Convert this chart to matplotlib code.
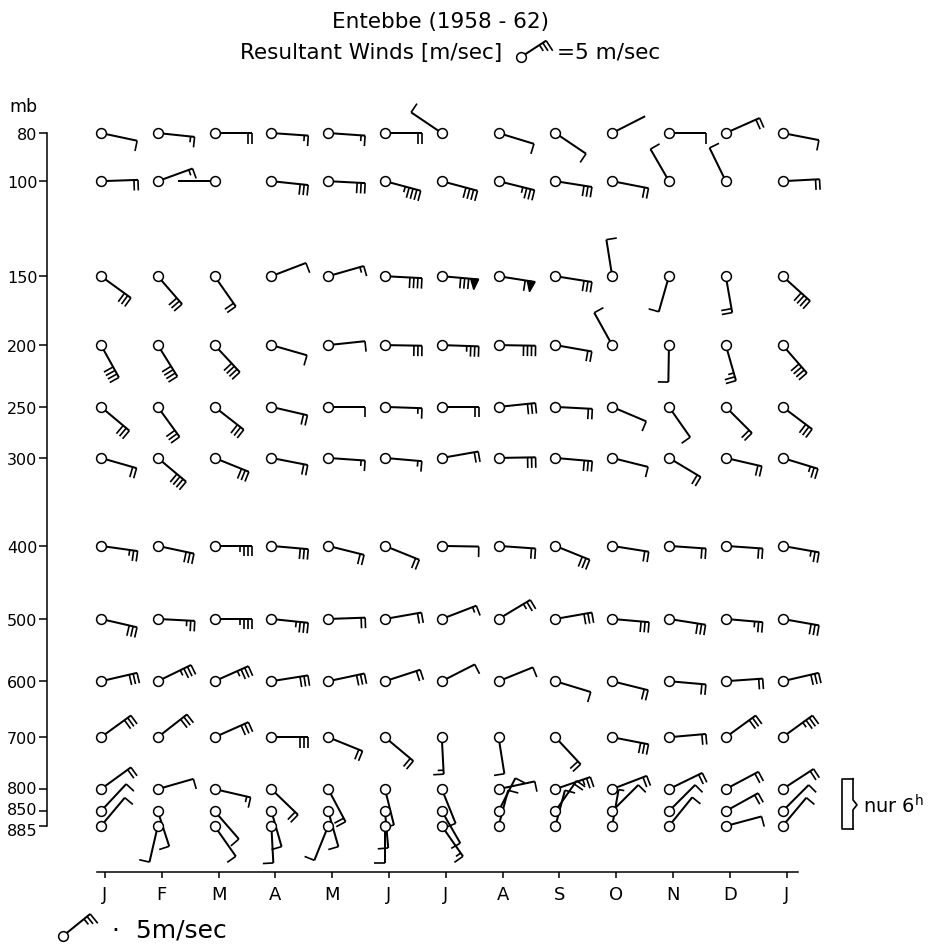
import numpy as np
import matplotlib.pyplot as plt
from matplotlib.transforms import ScaledTranslation

# Entebbe resultant winds 1958-62, monthly, Jan..Jan
months = ["J", "F", "M", "A", "M", "J", "J", "A", "S", "O", "N", "D", "J"]
levels = [80, 100, 150, 200, 250, 300, 400, 500, 600, 700, 800, 850, 885]
# approximate height (km) of each pressure level -> vertical scale of the chart
level_height = [17.87, 16.71, 14.42, 12.76, 11.27, 10.04, 7.92, 6.16, 4.66, 3.31, 2.06, 1.53, 1.17]

# direction the wind comes from (deg) and speed (m/sec), one list per level
dir_80 = [102, 96, 90, 94, 94, 90, 304, 107, 124, 63, 90, 66, 101]
spd_80 = [1, 1.5, 2, 1.5, 1.5, 2, 1, 1, 1, 0, 1, 2, 1]
dir_100 = [88, 70, 270, 96, 93, 105, 105, 104, 99, 101, 330, 334, 87]
spd_100 = [2, 1.5, 0, 3, 3, 4.5, 4, 3.5, 3, 2, 1, 1, 2]
dir_150 = [126, 139, 145, 69, 74, 93, 95, 99, 99, 351, 196, 170, 132]
spd_150 = [3, 3, 2, 1, 1.5, 4, 8, 6, 3, 1, 1, 2, 4]
dir_200 = [151, 148, 137, 106, 84, 91, 92, 91, 100, 331, 181, 164, 139]
spd_200 = [4, 4, 4, 1, 1, 3, 3.5, 4, 2, 1, 1, 2.5, 4]
dir_250 = [130, 144, 128, 103, 90, 92, 90, 84, 93, 113, 145, 135, 127]
spd_250 = [3, 3, 3, 2, 1, 1.5, 2, 3, 2, 1, 1, 2, 3]
dir_300 = [106, 130, 112, 101, 94, 95, 80, 89, 95, 104, 121, 103, 107]
spd_300 = [2, 4, 3, 2, 1.5, 1.5, 2, 3, 3, 1, 2, 2, 2.5]
dir_400 = [98, 102, 90, 95, 104, 112, 91, 94, 112, 99, 94, 94, 100]
spd_400 = [2.5, 3, 3.5, 3, 2, 2, 1, 2, 3, 2, 2, 2, 2.5]
dir_500 = [103, 93, 90, 96, 88, 80, 69, 59, 80, 95, 99, 95, 100]
spd_500 = [3, 2.5, 3.5, 3.5, 2, 2, 1.5, 2.5, 3, 3, 3, 2.5, 3]
dir_600 = [77, 64, 66, 81, 78, 72, 63, 68, 107, 104, 95, 86, 77]
spd_600 = [3, 3.5, 3.5, 3, 3, 2, 1, 1, 1, 2, 2, 2, 3]
dir_700 = [54, 52, 66, 90, 112, 130, 177, 171, 137, 101, 85, 54, 54]
spd_700 = [3, 3, 3, 3, 2, 2, 1.5, 1, 2, 3, 2, 3, 3.5]
dir_800 = [54, 74, 103, 134, 152, 166, 158, 78, 71, 69, 64, 62, 57]
spd_800 = [2, 1, 1.5, 2, 2, 1, 1, 1, 2.5, 2, 2, 2, 2]
dir_850 = [43, 162, 139, 164, 164, 175, 150, 27, 35, 45, 45, 61, 45]
spd_850 = [1, 1, 1, 1, 1, 1, 1, 1, 2, 1, 1, 2, 1]
dir_885 = [40, 193, 145, 177, 202, 180, 145, 15, 15, 10, 39, 75, 40]
spd_885 = [1, 1, 1, 1, 1, 1, 1.5, 1, 1, 0.5, 1, 1, 1]

directions = [dir_80, dir_100, dir_150, dir_200, dir_250, dir_300, dir_400,
              dir_500, dir_600, dir_700, dir_800, dir_850, dir_885]
speeds = [spd_80, spd_100, spd_150, spd_200, spd_250, spd_300, spd_400,
          spd_500, spd_600, spd_700, spd_800, spd_850, spd_885]

# symbol values (m/sec)
FLAG, FULL, HALF = 5.0, 1.0, 0.5

W, H = 939, 945
fig = plt.figure(figsize=(W / 100, H / 100), dpi=100)
ax = fig.add_axes([0, 0, 1, 1])
ax.set_xlim(-1.778, 14.754)
ax.set_ylim(-1.673, 21.10)


def draw_barb(anchor, bearing, speed, length=0.37, hatch_flag=False):
    """Shaft from the station towards the direction the wind comes from,
    ticks on the clockwise side at the far end. Units in inches."""
    tr = fig.dpi_scale_trans + anchor
    b = np.deg2rad(bearing)
    d = np.array([np.sin(b), np.cos(b)])
    p = np.array([np.cos(b), -np.sin(b)])
    kw = dict(transform=tr, color='k', clip_on=False, solid_capstyle='butt', zorder=3)
    ax.plot([0, length * d[0]], [0, length * d[1]], lw=1.45, **kw)

    n_flag = int(speed // FLAG)
    rest = speed - n_flag * FLAG
    n_full = int(rest // FULL)
    n_half = int(rest - n_full * FULL >= HALF)

    sp, th, fw = 0.04, 0.105, 0.08
    pos = length
    for _ in range(n_flag):
        if hatch_flag:
            for k, h in enumerate([0.12, 0.095, 0.07]):
                a = (pos - k * sp) * d
                e = a + h * p
                ax.plot([a[0], e[0]], [a[1], e[1]], lw=1.2, **kw)
            pos -= 3 * sp
        else:
            tri = np.array([pos * d, (pos - fw / 2) * d + th * p, (pos - fw) * d])
            ax.fill(tri[:, 0], tri[:, 1], color='k', transform=tr, clip_on=False, zorder=3)
            pos -= fw + 0.5 * sp
    for _ in range(n_full):
        a = pos * d
        e = a + th * p
        ax.plot([a[0], e[0]], [a[1], e[1]], lw=1.2, **kw)
        pos -= sp
    if n_half:
        a = pos * d
        e = a + 0.55 * th * p
        ax.plot([a[0], e[0]], [a[1], e[1]], lw=1.2, **kw)


# wind barbs for every level and month
for j, h in enumerate(level_height):
    for i in range(len(months)):
        draw_barb(ScaledTranslation(i, h, ax.transData), directions[j][i], speeds[j][i])

xx, yy = np.meshgrid(np.arange(len(months)), level_height)
ax.scatter(xx.ravel(), yy.ravel(), s=50, facecolors='white', edgecolors='k',
           linewidths=1.1, zorder=4, clip_on=False)

# axes
for side in ['top', 'right']:
    ax.spines[side].set_visible(False)
ax.spines['left'].set_position(('data', -0.951))
ax.spines['left'].set_bounds(level_height[-1], level_height[0])
ax.spines['bottom'].set_position(('data', 0.06))
ax.spines['bottom'].set_bounds(-0.07, 12.27)
for side in ['left', 'bottom']:
    ax.spines[side].set_linewidth(1.1)

ax.set_yticks(level_height, [str(l) for l in levels])
ax.set_xticks(np.arange(len(months)) + 0.07, months)
ax.tick_params(axis='y', direction='out', length=6, width=1.1, pad=1, labelsize=11.5)
ax.tick_params(axis='x', direction='out', length=4, width=1.1, pad=5, labelsize=13)
# the three lowest levels are tightly packed: spread their labels a little
ylabels = ax.get_yticklabels()
for lab, shift in [(ylabels[10], 1.5), (ylabels[11], 2.5), (ylabels[12], -2.5)]:
    lab.set_transform(lab.get_transform() + ScaledTranslation(0, shift / 72, fig.dpi_scale_trans))
ax.text(-1.37, level_height[0] + 0.65, "mb", ha='center', va='center', fontsize=12.5)

# bracket for the low levels (6h observations only)
top = level_height[10] + 0.25
bot = level_height[12] - 0.07
mid = level_height[11] + 0.15
ax.plot([13.24, 13.05, 13.05, 13.24], [top, top, bot, bot], color='k', lw=1.2, clip_on=False)
ax.plot([13.24, 13.24, 13.31, 13.24, 13.24], [top, mid + 0.12, mid, mid - 0.12, bot],
        color='k', lw=1.2, clip_on=False)
ax.text(13.42, mid, r"nur 6$^{\mathrm{h}}$", ha='left', va='center', fontsize=14)

# titles with the key symbol
fig.text(440 / W, 1 - 22 / H, "Entebbe (1958 - 62)", ha='center', va='center', fontsize=15.5)
fig.text(502 / W, 1 - 53 / H, "Resultant Winds [m/sec]", ha='right', va='center', fontsize=15.5)
fig.text(557 / W, 1 - 53 / H, "=5 m/sec", ha='left', va='center', fontsize=15.5)
key_title = ScaledTranslation(521 / W, 1 - 58 / H, fig.transFigure)
draw_barb(key_title, 57, 5, length=0.3, hatch_flag=True)
ax.plot([0], [0], 'o', ms=7, mfc='white', mec='k', mew=1.1,
        transform=fig.dpi_scale_trans + key_title, clip_on=False, zorder=4)

# key at the bottom
key_low = ScaledTranslation(63 / W, 1 - 937 / H, fig.transFigure)
draw_barb(key_low, 51, 5, length=0.35, hatch_flag=True)
ax.plot([0], [0], 'o', ms=7, mfc='white', mec='k', mew=1.1,
        transform=fig.dpi_scale_trans + key_low, clip_on=False, zorder=4)
fig.text(112 / W, 1 - 931 / H, "·  5m/sec", ha='left', va='center', fontsize=18)

fig.savefig("out.png", dpi=100)
